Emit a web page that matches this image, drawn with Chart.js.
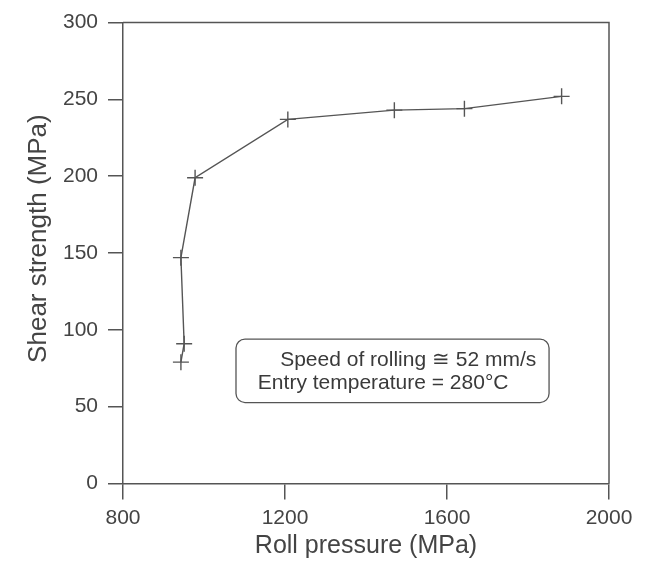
<!DOCTYPE html>
<html>
<head>
<meta charset="utf-8">
<script src="https://cdn.jsdelivr.net/npm/chart.js@4"></script>
<style>
  html, body { margin: 0; padding: 0; background: #fff; }
  #wrap { width: 648px; height: 562px; position: relative; }
</style>
</head>
<body>
<div id="wrap"><canvas id="shearChart"></canvas></div>
<script>
// roll pressure (MPa) and shear strength (MPa), in the order the line runs
const rollPressure = [943, 951, 943, 978, 1207, 1470, 1643, 1883];
const shearStrength = [79, 91, 147, 199, 237, 243, 244, 252];

const xTicks = [800, 1200, 1600, 2000];
const yTicks = [0, 50, 100, 150, 200, 250, 300];

const noteLines = ['Speed of rolling \u2245 52 mm/s', 'Entry temperature = 280\u00b0C'];

const ink = '#555';
const fontFamily = '"Liberation Sans", Arial, Helvetica, sans-serif';

// closes the frame on top and right, and draws the rolling-conditions box
const frameAndNote = {
    id: 'frameAndNote',
    afterDraw(chart) {
        const { ctx, chartArea: a, scales: { x, y } } = chart;
        ctx.save();
        ctx.strokeStyle = ink;
        ctx.lineWidth = 1.5;
        ctx.beginPath();
        ctx.moveTo(a.left, a.top);
        ctx.lineTo(a.right, a.top);
        ctx.lineTo(a.right, a.bottom);
        ctx.stroke();

        // note box, placed in data units
        const bx0 = x.getPixelForValue(1079), bx1 = x.getPixelForValue(1852);
        const by0 = y.getPixelForValue(94), by1 = y.getPixelForValue(52.7);
        ctx.lineWidth = 1.3;
        ctx.beginPath();
        ctx.roundRect(bx0, by0, bx1 - bx0, by1 - by0, 9);
        ctx.stroke();

        ctx.fillStyle = '#3a3a3a';
        ctx.font = '21px ' + fontFamily;
        ctx.textBaseline = 'middle';
        ctx.textAlign = 'left';
        ctx.fillText(noteLines[0], x.getPixelForValue(1188), y.getPixelForValue(80.5));
        ctx.fillText(noteLines[1], x.getPixelForValue(1133), y.getPixelForValue(65.6));
        ctx.restore();
    }
};

const ctx = document.getElementById('shearChart');

new Chart(ctx, {
    type: 'scatter',
    data: {
        datasets: [{
            data: rollPressure.map((p, i) => ({ x: p, y: shearStrength[i] })),
            showLine: true,
            borderColor: ink,
            borderWidth: 1.4,
            pointStyle: 'cross',
            pointRadius: 8,
            pointBorderWidth: 1.4,
            pointBorderColor: ink,
            pointHoverRadius: 8,
            tension: 0
        }]
    },
    options: {
        responsive: true,
        maintainAspectRatio: false,
        animation: false,
        layout: { padding: { top: 19.5, right: 39, bottom: 0, left: 0 } },
        plugins: {
            legend: { display: false },
            tooltip: { enabled: false }
        },
        scales: {
            x: {
                type: 'linear',
                min: 800,
                max: 2000,
                afterBuildTicks: s => { s.ticks = xTicks.map(v => ({ value: v })); },
                afterFit: s => { s.height = 78.5; },
                border: { display: true, color: ink, width: 1.5 },
                grid: { drawOnChartArea: false, drawTicks: true, tickLength: 16, color: ink, lineWidth: 1.5 },
                ticks: {
                    color: '#444', padding: 6, maxRotation: 0,
                    font: { family: fontFamily, size: 21 },
                    callback: v => String(v)   // no thousands separator
                },
                title: {
                    display: true,
                    text: 'Roll pressure (MPa)',
                    color: '#444',
                    font: { family: fontFamily, size: 25 },
                    padding: { top: 0, bottom: 1 }
                }
            },
            y: {
                type: 'linear',
                min: 0,
                max: 300,
                afterBuildTicks: s => { s.ticks = yTicks.map(v => ({ value: v })); },
                afterFit: s => { s.width = 123; },
                border: { display: true, color: ink, width: 1.5 },
                grid: { drawOnChartArea: false, drawTicks: true, tickLength: 15, color: ink, lineWidth: 1.5 },
                ticks: { color: '#444', padding: 10, font: { family: fontFamily, size: 21 } },
                title: {
                    display: true,
                    // leading spaces lift the title a little above the axis centre
                    text: '    Shear strength (MPa)',
                    color: '#444',
                    font: { family: fontFamily, size: 26 },
                    padding: { top: 23, bottom: 0 }
                }
            }
        }
    },
    plugins: [frameAndNote]
});
</script>
</body>
</html>
